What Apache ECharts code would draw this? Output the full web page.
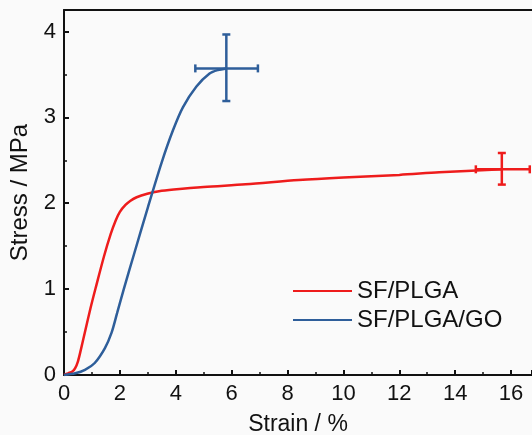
<!DOCTYPE html>
<html>
<head>
<meta charset="utf-8">
<script src="https://cdn.jsdelivr.net/npm/echarts@6/dist/echarts.min.js"></script>
<style>
html,body{margin:0;padding:0;background:#fafafa;}
#chart{width:532px;height:435px;}
</style>
</head>
<body>
<div id="chart"></div>
<script>
// Data
var seriesNames = ['SF/PLGA', 'SF/PLGA/GO'];
var plgaStrain = [0, 0.15, 0.3, 0.4, 0.5, 0.6, 0.75, 0.95, 1.13, 1.43, 1.67, 1.85, 2.0, 2.2, 2.38, 2.6, 2.98, 3.4, 3.93, 5.0, 6.5, 8.4, 10.0, 12.0, 13.43, 15.67];
var plgaStress = [0, 0.02, 0.04, 0.08, 0.16, 0.29, 0.5, 0.78, 1.01, 1.38, 1.64, 1.8, 1.9, 1.98, 2.03, 2.07, 2.11, 2.14, 2.16, 2.19, 2.22, 2.27, 2.30, 2.33, 2.36, 2.395];
var goStrain = [0, 0.4, 0.75, 1.1, 1.46, 1.7, 1.9, 2.14, 2.5, 3.0, 3.5, 3.9, 4.26, 4.74, 5.21, 5.5, 5.81];
var goStress = [0, 0.02, 0.06, 0.14, 0.31, 0.49, 0.72, 1.0, 1.4, 1.95, 2.48, 2.85, 3.12, 3.36, 3.51, 3.55, 3.57];
// error bars: [centerX, centerY, xLow, xHigh, yLow, yHigh]
var plgaError = [[15.67, 2.395, 14.74, 16.67, 2.217, 2.585]];
var goError = [[5.81, 3.57, 4.70, 6.94, 3.19, 3.965]];

var red = '#ee1c1c';
var blue = '#2e5e9a';

function pairs(xs, ys){ return xs.map(function(x,i){ return [x, ys[i]]; }); }

function errRender(color){
  return function(params, api){
    var cx = api.value(0), cy = api.value(1);
    var xl = api.value(2), xh = api.value(3), yl = api.value(4), yh = api.value(5);
    var pL = api.coord([xl, cy]), pR = api.coord([xh, cy]);
    var pB = api.coord([cx, yl]), pT = api.coord([cx, yh]);
    var c = 4;
    var st = {stroke: color, lineWidth: 2.5};
    return {
      type: 'group',
      children: [
        {type:'line', shape:{x1:pL[0], y1:pL[1], x2:pR[0], y2:pR[1]}, style:st},
        {type:'line', shape:{x1:pL[0], y1:pL[1]-c, x2:pL[0], y2:pL[1]+c}, style:st},
        {type:'line', shape:{x1:pR[0], y1:pR[1]-c, x2:pR[0], y2:pR[1]+c}, style:st},
        {type:'line', shape:{x1:pB[0], y1:pB[1], x2:pT[0], y2:pT[1]}, style:st},
        {type:'line', shape:{x1:pB[0]-c, y1:pB[1], x2:pB[0]+c, y2:pB[1]}, style:st},
        {type:'line', shape:{x1:pT[0]-c, y1:pT[1], x2:pT[0]+c, y2:pT[1]}, style:st}
      ]
    };
  };
}

var font = 'Liberation Sans, Arial, sans-serif';
var chart = echarts.init(document.getElementById('chart'), null, {renderer:'canvas'});
chart.setOption({
  backgroundColor: '#fafafa',
  animation: false,
  grid: {left: 64, top: 10, right: 0, bottom: 60, containLabel: false, outerBoundsMode: 'none'},
  legend: {
    orient: 'vertical', left: 288, top: 274,
    itemWidth: 59, itemHeight: 25, itemGap: 5,
    icon: 'path://M0,0 L60,0 L60,2 L0,2 Z',
    textStyle: {fontFamily: font, fontSize: 24, color: '#111'},
    data: [
      {name: seriesNames[0], itemStyle:{color: red}},
      {name: seriesNames[1], itemStyle:{color: blue}}
    ]
  },
  xAxis: [{
    type: 'value', min: 0, max: 16.75, interval: 2,
    name: 'Strain / %', nameLocation: 'middle', nameGap: 38,
    nameTextStyle: {fontFamily: font, fontSize: 23, color: '#111'},
    axisLine: {show: true, onZero: false, lineStyle: {color: '#111', width: 2}},
    axisTick: {show: true, inside: true, length: 5, lineStyle: {color: '#111', width: 2}},
    minorTick: {show: true, splitNumber: 2, length: 3, lineStyle: {color: '#111', width: 1.5}},
    axisLabel: {fontFamily: font, fontSize: 22, color: '#111', margin: 8, showMaxLabel: false,
      formatter: function(v){ return (v % 2 === 0) ? String(v) : ''; }},
    splitLine: {show: false}
  }, {
    type: 'value', min: 0, max: 16.75, position: 'top',
    axisLine: {show: true, onZero: false, lineStyle: {color: '#111', width: 2}},
    axisTick: {show: false}, axisLabel: {show: false}, splitLine: {show: false}
  }],
  yAxis: {
    type: 'value', min: 0, max: 4.25, interval: 1,
    name: 'Stress / MPa', nameLocation: 'middle', nameGap: 27, nameRotate: 90,
    nameTextStyle: {fontFamily: font, fontSize: 24, color: '#111'},
    axisLine: {show: true, onZero: false, lineStyle: {color: '#111', width: 2}},
    axisTick: {show: true, inside: true, length: 5, lineStyle: {color: '#111', width: 2}},
    minorTick: {show: true, splitNumber: 2, length: 3, lineStyle: {color: '#111', width: 1.5}},
    axisLabel: {fontFamily: font, fontSize: 22, color: '#111', margin: 8, showMaxLabel: false,
      formatter: function(v){ return (v % 1 === 0) ? String(v) : ''; }},
    splitLine: {show: false}
  },
  series: [
    {name: seriesNames[0], type: 'line', smooth: 0.3, symbol: 'none', data: pairs(plgaStrain, plgaStress),
      lineStyle: {color: red, width: 2.5}, itemStyle: {color: red}, z: 3},
    {name: seriesNames[1], type: 'line', smooth: 0.3, symbol: 'none', data: pairs(goStrain, goStress),
      lineStyle: {color: blue, width: 2.5}, itemStyle: {color: blue}, z: 3},
    {type: 'custom', renderItem: errRender(red), data: plgaError, z: 4, clip: false},
    {type: 'custom', renderItem: errRender(blue), data: goError, z: 4, clip: false}
  ]
});
</script>
</body>
</html>
